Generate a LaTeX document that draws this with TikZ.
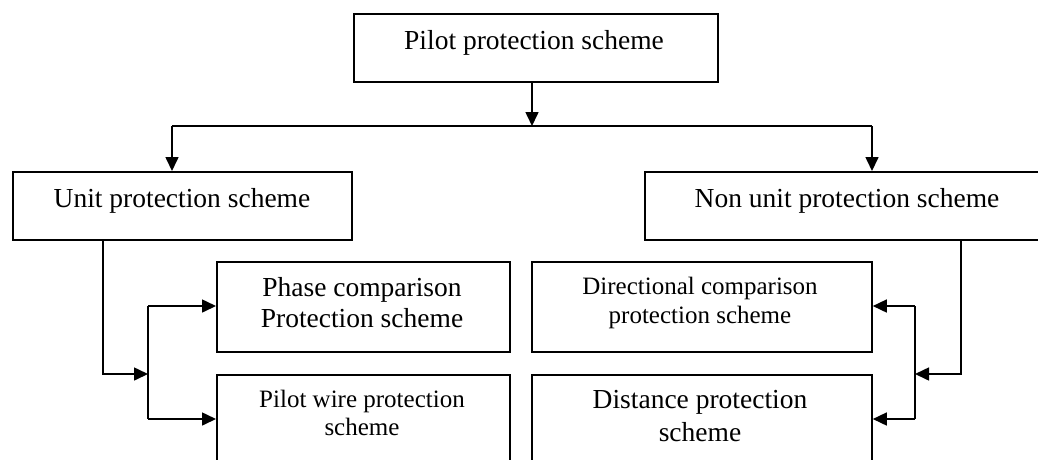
\documentclass[tikz,border=0pt]{standalone}
\usepackage{fontspec}
\setmainfont{Liberation Serif}
\usetikzlibrary{arrows.meta}
\tikzset{
  box/.style={draw, line width=1.8pt, rectangle, inner sep=0pt, anchor=north west},
  big/.style={font=\fontsize{27.5}{31}\selectfont, align=center, inner sep=0pt, anchor=base},
  small/.style={font=\fontsize{25}{29}\selectfont, align=center, inner sep=0pt, anchor=base},
  conn/.style={line width=1.6pt},
  arr/.style={conn, -{Triangle[length=14pt,width=13pt]}}
}
\begin{document}
\begin{tikzpicture}[x=1pt,y=-1pt]
\useasboundingbox (0,0) rectangle (1038,459);
\clip (0,0) rectangle (1038,459);
% boxes
\node[box, minimum width=364pt, minimum height=68pt] (top) at (353,13) {};
\node[box, minimum width=339pt, minimum height=68pt] (unit) at (12,171) {};
\node[box, minimum width=406pt, minimum height=68pt] (nonunit) at (644,171) {};
\node[box, minimum width=293pt, minimum height=90pt] (phase) at (216,261) {};
\node[box, minimum width=293pt, minimum height=110pt] (wire) at (216,374) {};
\node[box, minimum width=340pt, minimum height=90pt] (dir) at (531,261) {};
\node[box, minimum width=340pt, minimum height=110pt] (dist) at (531,374) {};
% texts (base anchor = baseline of last line)
\node[big] (topT) at (534,49) {Pilot protection scheme};
\node[big] (unitT) at (182,207) {Unit protection scheme};
\node[big] (nonunitT) at (847,207) {Non unit protection scheme};
\node[big] (phaseT) at (362,327) {Phase comparison\\Protection scheme};
\node[small, font=\fontsize{25}{28}\selectfont] (wireT) at (362,435) {Pilot wire protection\\scheme};
\node[small] (dirT) at (700,323) {Directional comparison\\protection scheme};
\node[big, font=\fontsize{27.5}{33}\selectfont] (distT) at (700,441) {Distance protection\\scheme};
% junction points
\coordinate (j1) at (532,126);
\coordinate (jl) at (172,126);
\coordinate (jr) at (872,126);
\coordinate (ul) at (103,374);
\coordinate (ub) at (148,374);
\coordinate (ut) at (148,306);
\coordinate (uw) at (148,419);
\coordinate (nr) at (961,374);
\coordinate (nb) at (915,374);
\coordinate (nt) at (915,306);
\coordinate (nw) at (915,419);
% connectors
\draw[arr] (top.south -| j1) -- (j1);
\draw[conn] (jl) -- (jr);
\draw[arr] (jl) -- (jl |- unit.north);
\draw[arr] (jr) -- (jr |- nonunit.north);
\draw[arr] (unit.south -| ul) -- (ul) -- (ub);
\draw[conn] (ut) -- (uw);
\draw[arr] (ut) -- (ut -| phase.west);
\draw[arr] (uw) -- (uw -| wire.west);
\draw[arr] (nonunit.south -| nr) -- (nr) -- (nb);
\draw[conn] (nt) -- (nw);
\draw[arr] (nt) -- (nt -| dir.east);
\draw[arr] (nw) -- (nw -| dist.east);
\end{tikzpicture}
\end{document}
